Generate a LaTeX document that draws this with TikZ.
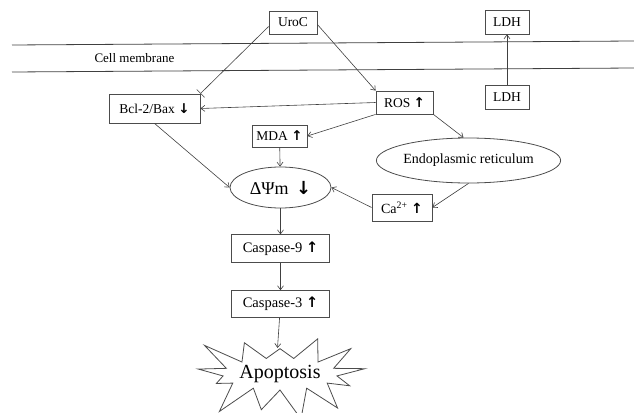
\documentclass[tikz,border=0pt]{standalone}
\usepackage{fontspec}
\setmainfont{LiberationSerif-Regular.ttf}[BoldFont=LiberationSerif-Bold.ttf]
\newfontfamily\arrowfont{DejaVu Sans}
\usetikzlibrary{arrows.meta,positioning,shapes.geometric,shapes.symbols}
\tikzset{
	cellbox/.style={
		draw=black!70, rectangle, line width=0.8pt,
		inner sep=0pt, text=black,
		font=\fontsize{13.5}{15}\selectfont
	},
	organelle/.style={
		draw=black!70, ellipse, line width=0.8pt,
		inner sep=0pt, text=black,
		font=\fontsize{14}{16}\selectfont
	},
	burst/.style={
		draw=black!70, starburst, line width=0.8pt,
		starburst points=13, starburst point height=36pt,
		random starburst=23, inner sep=0pt,
		minimum width=172pt, minimum height=104pt,
		font=\fontsize{20}{22}\selectfont
	},
	>={Straight Barb[length=4pt,width=6pt]},
	flow_arrow/.style={->, draw=black!75, line width=0.6pt},
	block_arrow/.style={-{Bar[width=11pt]}, draw=black!75, line width=0.6pt}
}
\newcommand{\up}{{\arrowfont\bfseries ↑}}
\newcommand{\down}{{\arrowfont\bfseries ↓}}

\begin{document}
\begin{tikzpicture}[x=1pt,y=-1pt]
				\useasboundingbox (0,0) rectangle (634,412);
				% membrane
				\draw[black!75, line width=0.8pt] (12,45) -- (634,41) (12,72) -- (634,68);
				\node[anchor=west, font=\fontsize{13}{15}\selectfont] (membrane) at (91,58) {Cell membrane};
				\node[cellbox, minimum width=48pt, minimum height=23pt] (uroc) at (293,22.5) {UroC};
				\node[cellbox, minimum width=44pt, minimum height=24pt] (ldhout) at (507,22) {LDH};
				\node[cellbox, minimum width=44pt, minimum height=24pt] (ldhin) at (507,97) {LDH};
				\node[cellbox, minimum width=91pt, minimum height=29pt] (bcl) at (154.5,108.5) {Bcl-2/Bax \down};
				\node[cellbox, minimum width=57pt, minimum height=23pt] (ros) at (404.5,102.5) {ROS \up};
				\node[cellbox, minimum width=55pt, minimum height=22pt] (mda) at (279.5,136) {MDA \up};
				\node[organelle, minimum width=101pt, minimum height=41pt, font=\fontsize{18}{20}\selectfont] (psi) at (280.5,187.5) {ΔΨm\, \down};
				\node[organelle, minimum width=163pt, minimum height=45pt] (er) at (468.5,160.5) {Endoplasmic reticulum};
				\node[cellbox, minimum width=60pt, minimum height=27pt, font=\fontsize{14}{16}\selectfont] (ca) at (402,207.5) {Ca\textsuperscript{2+} \up};
				\node[cellbox, minimum width=98pt, minimum height=28pt, font=\fontsize{14.5}{16}\selectfont] (casp9) [below=26pt of psi] {Caspase-9 \up};
				\node[cellbox, minimum width=98pt, minimum height=27pt, font=\fontsize{14.5}{16}\selectfont] (casp3) [below=27pt of casp9] {Caspase-3 \up};
				\node[burst] (apop) at (280,374) {Apoptosis};
				\coordinate (apoptop) at (277.5,348);
				\draw[block_arrow] ([yshift=-4pt]uroc.west) -- (bcl.north east);
				\draw[flow_arrow] ([yshift=-2pt]uroc.east) -- (ros.north west);
				\draw[flow_arrow] (ldhin) -- (ldhout);
				\draw[flow_arrow] (ros.west) -- (bcl.east);
				\draw[flow_arrow] (ros.south west) -- (mda.east);
				\draw[flow_arrow] (ros.south east) -- ([xshift=-5pt]er.north);
				\draw[flow_arrow] (mda) -- (psi);
				\draw[flow_arrow] (bcl.south) -- (psi.west);
				\draw[flow_arrow] (er.south) -- (ca.east);
				\draw[flow_arrow] (ca.west) -- (psi.east);
				\draw[flow_arrow] (psi) -- (casp9);
				\draw[flow_arrow] (casp9) -- (casp3);
				\draw[flow_arrow] (casp3) -- (apoptop);
			\end{tikzpicture}
\end{document}
